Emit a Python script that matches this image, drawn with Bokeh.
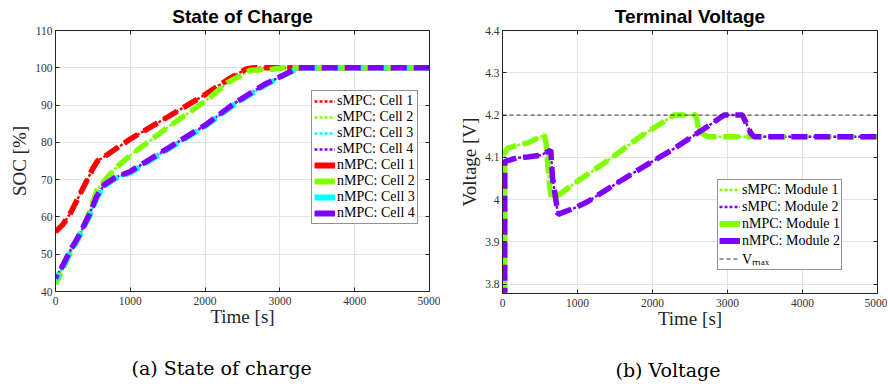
from bokeh.plotting import figure
from bokeh.layouts import row
from bokeh.models import Range1d, LinearAxis, FixedTicker, Legend, LegendItem, Title
from bokeh.embed import file_html
from bokeh.resources import INLINE

# ---------------- data ----------------
time_ticks = [0, 1000, 2000, 3000, 4000, 5000]
soc_ticks = [40, 50, 60, 70, 80, 90, 100, 110]
volt_ticks = [3.8, 3.9, 4.0, 4.1, 4.2, 4.3, 4.4]
volt_tick_labels = ["3.8", "3.9", "4", "4.1", "4.2", "4.3", "4.4"]

cell_names = ["Cell 1", "Cell 2", "Cell 3", "Cell 4"]
cell_colors = ["#ff0000", "#80ff00", "#00ffff", "#8000ff"]

soc_t_cell1 = [0, 100, 200, 300, 400, 500, 560, 700, 1000, 1500, 2000, 2300, 2550, 2650, 5000]
soc_cell1 = [56, 58, 61, 65, 69, 73, 75, 76.8, 80.9, 86.8, 92.8, 96.8, 99.7, 100, 100]

soc_t_cell2 = [0, 100, 200, 300, 450, 550, 600, 800, 1000, 1500, 2000, 2300, 2600, 2900, 3050, 5000]
soc_cell2 = [42, 46, 50.5, 54, 61, 67, 68.5, 73, 76.5, 84, 91, 96, 99.3, 99.6, 100, 100]

soc_t_cell3 = [0, 100, 200, 300, 450, 550, 650, 800, 1000, 1500, 2000, 2400, 2800, 3250, 5000]
soc_cell3 = [43, 46.6, 50.6, 54, 60, 65, 68.2, 70.3, 71.8, 78.1, 84.3, 90.3, 95.3, 100, 100]

soc_t_cell4 = [0, 100, 200, 300, 450, 550, 650, 800, 1000, 1500, 2000, 2400, 2800, 3250, 5000]
soc_cell4 = [43.6, 47.1, 51.1, 54.5, 60.5, 65.5, 68.6, 70.6, 72.2, 78.4, 84.6, 90.6, 95.6, 100, 100]

module_names = ["Module 1", "Module 2"]
module_colors = ["#80ff00", "#8000ff"]

volt_t_mod1 = [30, 30, 67, 200, 333, 511, 555, 578, 600, 622, 644, 689, 956, 1400, 1844,
               2289, 2578, 2622, 2733, 5000]
volt_mod1 = [3.78, 4.11, 4.121, 4.129, 4.134, 4.149, 4.153, 4.137, 4.09, 4.042, 4.011, 4.003,
             4.038, 4.092, 4.150, 4.2, 4.2, 4.16, 4.149, 4.149]

volt_t_mod2 = [30, 30, 67, 200, 333, 511, 644, 667, 689, 740, 956, 1133, 1400, 1844, 2289,
               2733, 2955, 3200, 3311, 3355, 5000]
volt_mod2 = [3.78, 4.09, 4.092, 4.099, 4.101, 4.105, 4.117, 4.05, 4.026, 3.965, 3.98, 3.995,
             4.025, 4.074, 4.121, 4.173, 4.2, 4.2, 4.157, 4.149, 4.149]

vmax_t = [0, 5000]
vmax_v = [4.2, 4.2]

# ---------------- styling ----------------
AX = "#262626"
GRID = "#e3e3e3"
SERIF = "Liberation Serif"
S_DASH = "3 2"
N_DASH = "16 7"


def make_fig(title, xr, yr, fw, fh, bl, br, bt, bb):
    p = figure(frame_width=fw, frame_height=fh, x_range=xr, y_range=yr,
               output_backend="svg", toolbar_location=None,
               min_border_left=bl, min_border_right=br,
               min_border_top=bt, min_border_bottom=bb)
    p.title.text = title
    p.title.align = "center"
    p.title.text_font = "Liberation Sans"
    p.title.text_font_size = "19px"
    p.title.text_font_style = "bold"
    p.title.text_color = "#000000"
    p.title.standoff = 7
    p.outline_line_color = None
    p.background_fill_color = "white"
    return p


def box_axis(ticks):
    return LinearAxis(ticker=FixedTicker(ticks=ticks), major_label_text_font_size="1px",
                      major_label_text_color=None, major_label_standoff=0,
                      major_tick_in=4, major_tick_out=0, minor_tick_line_color=None,
                      axis_line_color=AX, major_tick_line_color=AX)


def style_axes(p, xt, yt, xlabel, ylabel, overrides=None):
    for ax in p.xaxis + p.yaxis:
        ax.axis_line_color = AX
        ax.major_tick_line_color = AX
        ax.major_tick_in = 4
        ax.major_tick_out = 0
        ax.minor_tick_line_color = None
        ax.major_label_text_font = SERIF
        ax.major_label_text_font_size = "11.5px"
        ax.major_label_text_color = "#333333"
        ax.axis_label_text_font = SERIF
        ax.axis_label_text_font_size = "19px"
        ax.axis_label_text_font_style = "normal"
        ax.axis_label_text_color = AX
    p.xaxis.ticker = FixedTicker(ticks=xt)
    p.yaxis.ticker = FixedTicker(ticks=yt)
    p.xaxis.axis_label = xlabel
    p.yaxis.axis_label = ylabel
    p.xaxis.major_label_standoff = 5
    p.xaxis.axis_label_standoff = -2
    p.yaxis.major_label_standoff = 3
    p.yaxis.axis_label_standoff = 2
    if overrides:
        p.yaxis.major_label_overrides = overrides
    p.xgrid.ticker = FixedTicker(ticks=xt)
    p.ygrid.ticker = FixedTicker(ticks=yt)
    p.xgrid.grid_line_color = GRID
    p.ygrid.grid_line_color = GRID
    p.add_layout(box_axis(xt), "above")
    p.add_layout(box_axis(yt), "right")


def caption(p, text, offset):
    t = Title(text=text, align="left", offset=offset, text_font="DejaVu Serif",
              text_font_size="19px", text_font_style="normal", text_color="#000000",
              standoff=50)
    p.add_layout(t, "below")


def make_legend(p, items, loc, gh, pad):
    lg = Legend(items=items, location=loc, glyph_width=21, glyph_height=gh,
                label_height=gh, spacing=0, padding=pad, margin=0, label_standoff=2,
                label_text_font=SERIF, label_text_font_size="14px",
                label_text_line_height=1.0,
                label_text_color="#000000", border_line_color=AX, border_line_width=1,
                background_fill_color="white", background_fill_alpha=1.0)
    p.add_layout(lg)


# ---------------- SOC figure ----------------
p1 = make_fig("State of Charge", Range1d(0, 5000), Range1d(40, 110),
              374, 261, 55, 11, 30, 92)
style_axes(p1, time_ticks, soc_ticks, "Time [s]", "SOC [%]")

soc_t = [soc_t_cell1, soc_t_cell2, soc_t_cell3, soc_t_cell4]
soc_v = [soc_cell1, soc_cell2, soc_cell3, soc_cell4]

s_items, n_items = [], []
for name, c, t, v in zip(cell_names, cell_colors, soc_t, soc_v):
    r = p1.line(t, v, line_color=c, line_width=2.5, line_dash=S_DASH)
    s_items.append(LegendItem(label="sMPC: " + name, renderers=[r]))
for i, (name, c, t, v) in enumerate(zip(cell_names, cell_colors, soc_t, soc_v)):
    p1.line(t, v, line_color=c, line_width=5.5, line_dash=N_DASH, line_dash_offset=i * 4)
    # one-point solid proxy (draws nothing in the plot) so the legend shows a solid bar
    proxy = p1.line(t[:1], v[:1], line_color=c, line_width=6)
    n_items.append(LegendItem(label="nMPC: " + name, renderers=[proxy]))

make_legend(p1, s_items + n_items, (256, 67), 16, 2)
caption(p1, "(a) State of charge", 76)

# ---------------- Voltage figure ----------------
p2 = make_fig("Terminal Voltage", Range1d(0, 5000), Range1d(3.778, 4.4),
              375, 263, 62, 10, 29, 91)
style_axes(p2, time_ticks, volt_ticks, "Time [s]", "Voltage [V]",
           dict(zip(volt_ticks, volt_tick_labels)))

volt_t = [volt_t_mod1, volt_t_mod2]
volt_v = [volt_mod1, volt_mod2]

s_items, n_items = [], []
for name, c, t, v in zip(module_names, module_colors, volt_t, volt_v):
    r = p2.line(t, v, line_color=c, line_width=2.5, line_dash=S_DASH)
    s_items.append(LegendItem(label="sMPC: " + name, renderers=[r]))
for i, (name, c, t, v) in enumerate(zip(module_names, module_colors, volt_t, volt_v)):
    p2.line(t, v, line_color=c, line_width=5.5, line_dash=N_DASH, line_dash_offset=i * 11)
    proxy = p2.line(t[:1], v[:1], line_color=c, line_width=6)
    n_items.append(LegendItem(label="nMPC: " + name, renderers=[proxy]))
rv = p2.line(vmax_t, vmax_v, line_color="#333333", line_width=1, line_dash="4 3")
vitem = LegendItem(label="Vₘₐₓ", renderers=[rv])

make_legend(p2, s_items + n_items + [vitem], (215, 23), 17, 1)
caption(p2, "(b) Voltage", 113)

layout = row(p1, p2)
open("out.html", "w").write(file_html(layout, INLINE))
